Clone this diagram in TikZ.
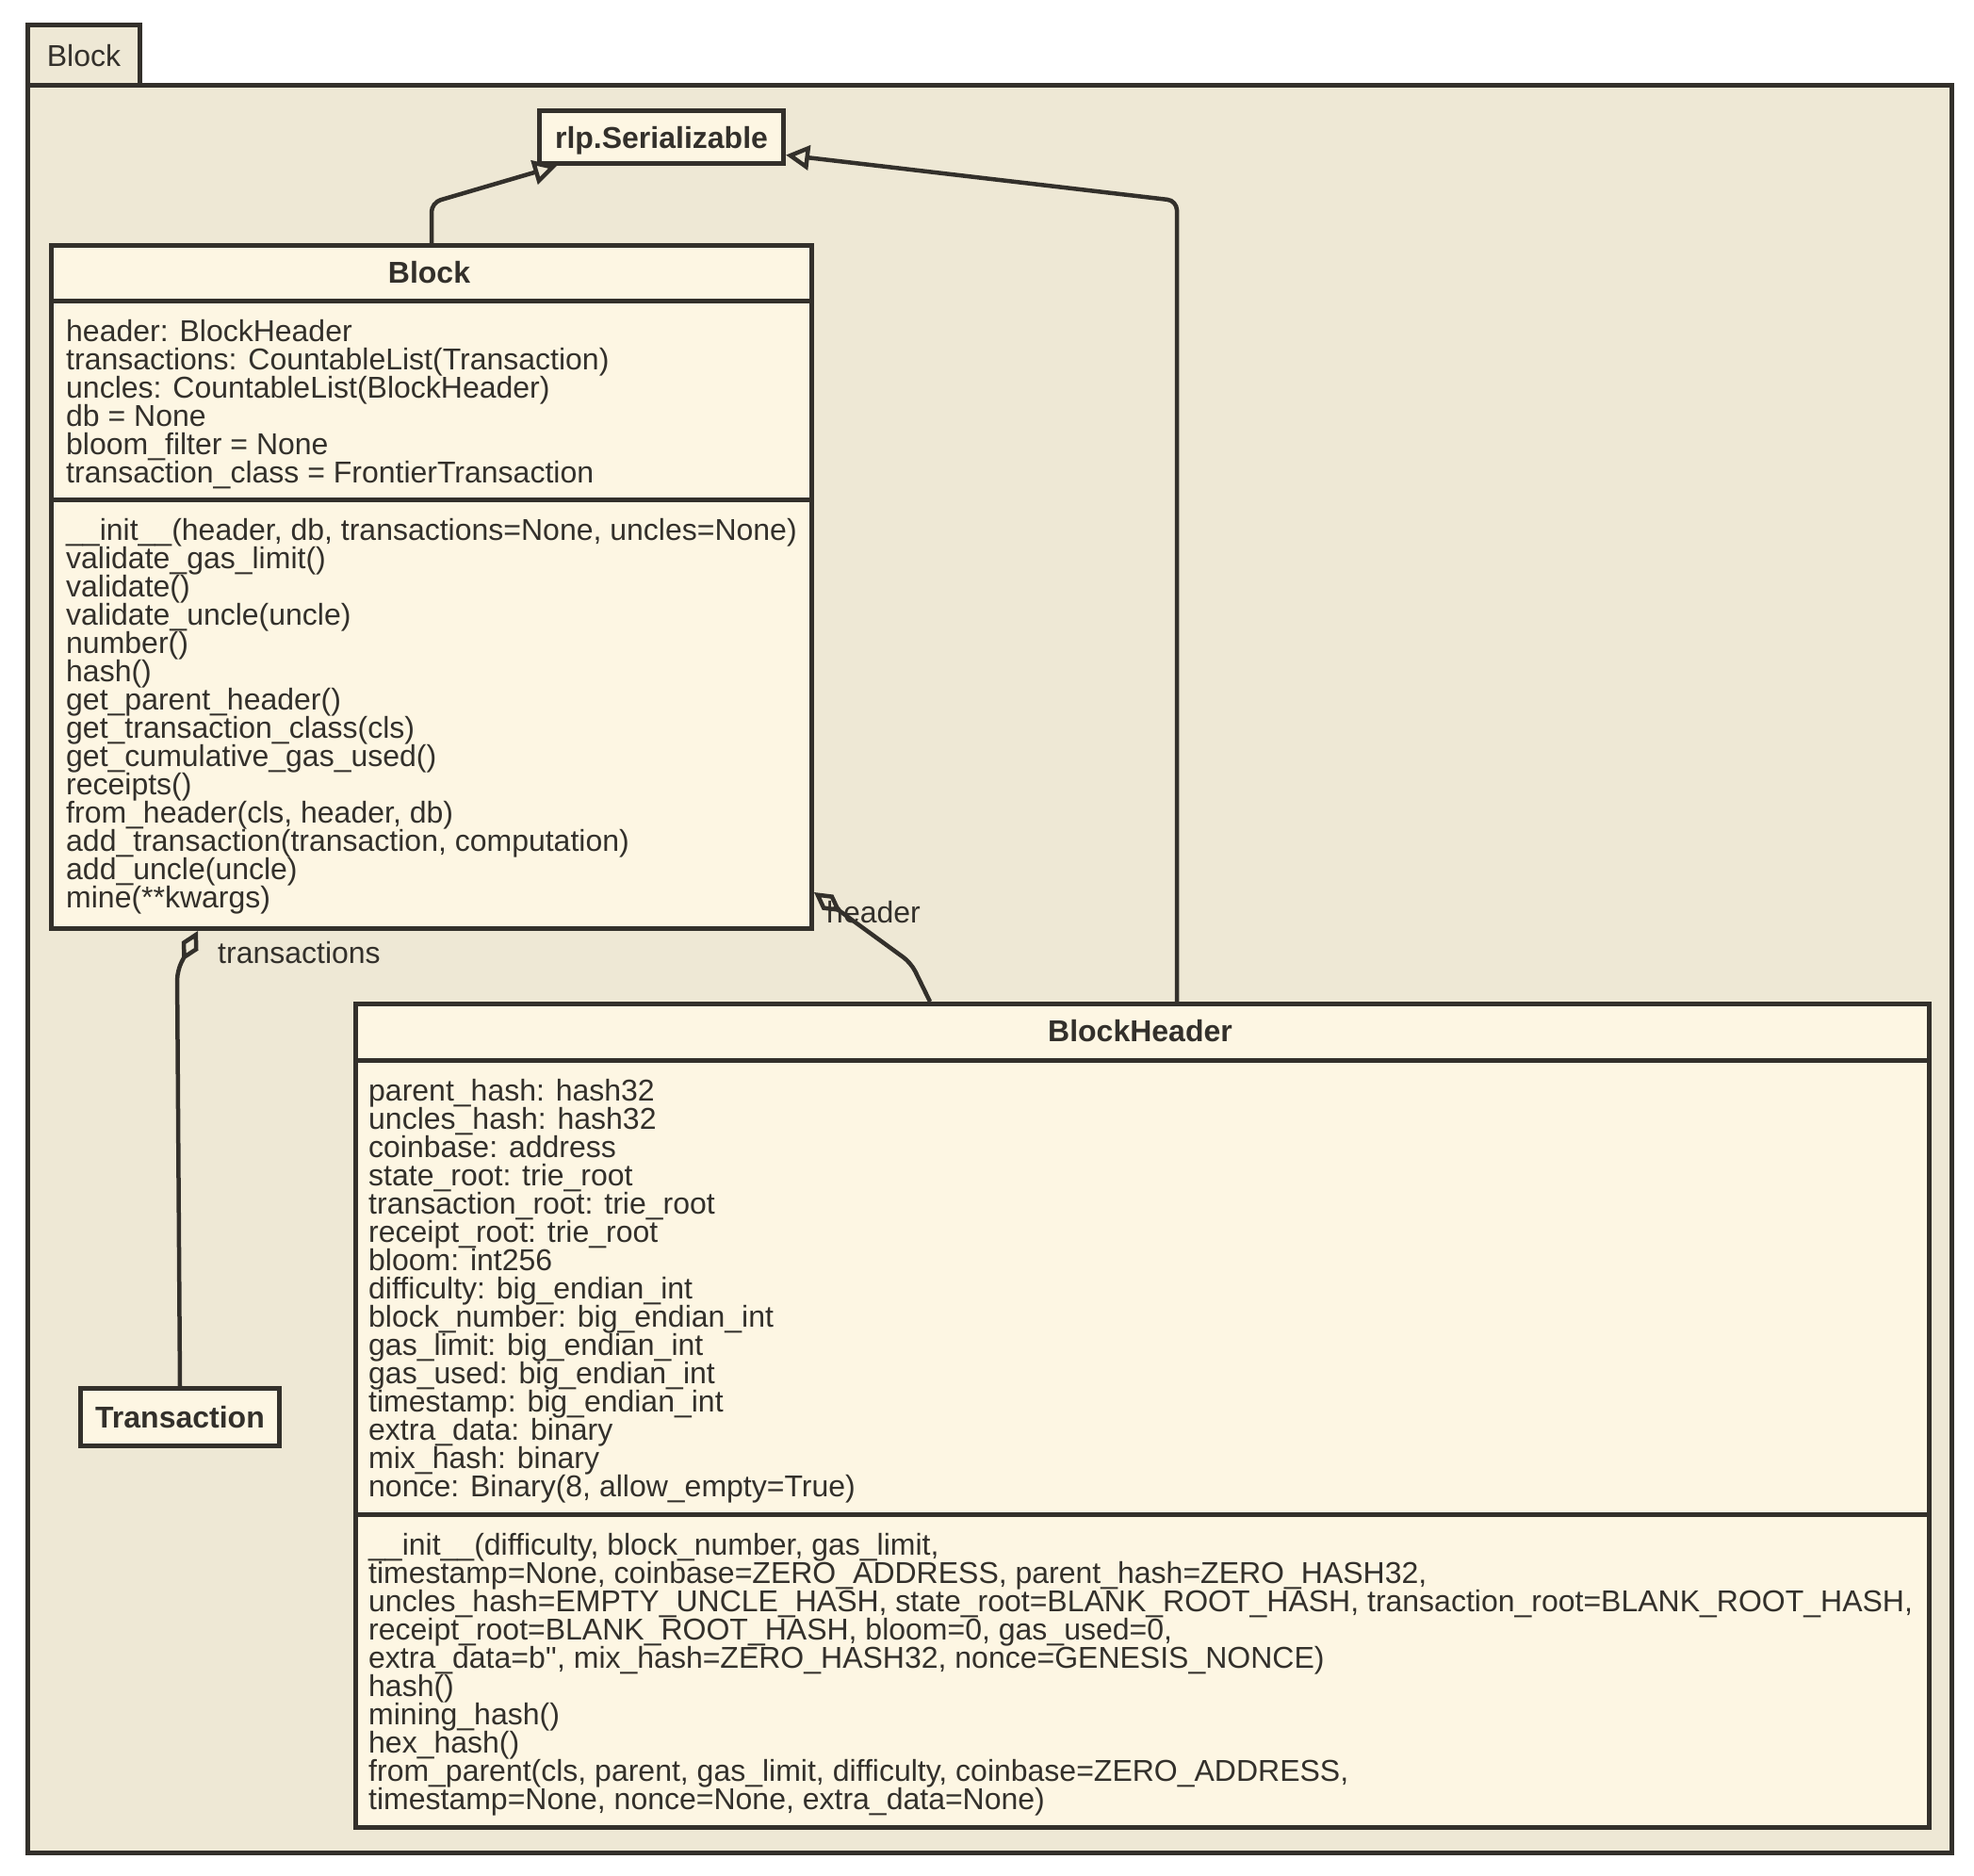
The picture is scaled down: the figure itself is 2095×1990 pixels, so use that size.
\documentclass[tikz,border=0pt]{standalone}
\usepackage{fontspec}
\setmainfont{Liberation Sans}
\usepackage{xcolor}
\usetikzlibrary{arrows.meta, calc, positioning}

\definecolor{pkgbg}{HTML}{EEE8D5}
\definecolor{classbg}{HTML}{FDF6E3}
\definecolor{ink}{HTML}{33302B}

\begin{document}
\begin{tikzpicture}[x=1pt, y=-1pt,
  umlfont/.style={font=\fontsize{32}{30}\selectfont, text=ink},
  pkgbox/.style={draw=ink, line width=5pt, fill=pkgbg, inner sep=0pt, anchor=north west},
  classbox/.style={draw=ink, line width=5pt, fill=classbg, inner sep=0pt, anchor=north west},
  namebox/.style={classbox, umlfont, font=\fontsize{32}{30}\selectfont\bfseries, text height=23pt, text depth=0pt},
  title/.style={umlfont, font=\fontsize{32}{30}\selectfont\bfseries, inner sep=0pt, anchor=base},
  members/.style={umlfont, inner sep=0pt, align=left, anchor=base west},
  sep/.style={draw=ink, line width=5pt},
  link/.style={draw=ink, line width=4.5pt, rounded corners=10pt},
  inherit/.style={link, -{Triangle[open, length=25pt, width=26pt]}},
  aggr/.style={link, {Diamond[open, length=36pt, width=20pt]}-},
  role/.style={umlfont, inner sep=0pt, anchor=west}
]
\fill[white] (0,0) rectangle (2095,1990);
\useasboundingbox (0,0) rectangle (2095,1990);

% package frame
\node[pkgbox, minimum width=2042pt, minimum height=1876pt] (pkg) at (27,88) {};
\node[pkgbox, umlfont, minimum width=119pt, minimum height=64pt, text height=23pt, text depth=0pt] (tab) at (27,24) {Block};

% classes (member lists are placed by the baseline of their last line)
\node[namebox, minimum width=259pt, minimum height=56pt] (rlp) at (570,115) {rlp.Serializable};
\node[namebox, minimum width=211pt, minimum height=61pt] (trans) at (83,1471) {Transaction};

\node[classbox, minimum width=807pt, minimum height=725pt] (blk) at (52,258) {};
\draw[sep] ($(blk.north west)+(0,61)$) -- ($(blk.north east)+(0,61)$);
\draw[sep] ($(blk.north west)+(0,272)$) -- ($(blk.north east)+(0,272)$);
\node[title] (blkname) at (455.5,300) {Block};
\node[members] (blkattr) at (70,512) {header: BlockHeader\\
transactions: CountableList(Transaction)\\
uncles: CountableList(BlockHeader)\\
db = None\\
bloom\_filter = None\\
transaction\_class = FrontierTransaction};
\node[members] (blkops) at (70,963) {\_\_init\_\_(header, db, transactions=None, uncles=None)\\
validate\_gas\_limit()\\
validate()\\
validate\_uncle(uncle)\\
number()\\
hash()\\
get\_parent\_header()\\
get\_transaction\_class(cls)\\
get\_cumulative\_gas\_used()\\
receipts()\\
from\_header(cls, header, db)\\
add\_transaction(transaction, computation)\\
add\_uncle(uncle)\\
mine(**kwargs)};

\node[classbox, minimum width=1670pt, minimum height=874pt] (bh) at (375,1063) {};
\draw[sep] ($(bh.north west)+(0,62)$) -- ($(bh.north east)+(0,62)$);
\draw[sep] ($(bh.north west)+(0,544)$) -- ($(bh.north east)+(0,544)$);
\node[title] (bhname) at (1210,1105) {BlockHeader};
\node[members] (bhattr) at (391,1588) {parent\_hash: hash32\\
uncles\_hash: hash32\\
coinbase: address\\
state\_root: trie\_root\\
transaction\_root: trie\_root\\
receipt\_root: trie\_root\\
bloom: int256\\
difficulty: big\_endian\_int\\
block\_number: big\_endian\_int\\
gas\_limit: big\_endian\_int\\
gas\_used: big\_endian\_int\\
timestamp: big\_endian\_int\\
extra\_data: binary\\
mix\_hash: binary\\
nonce: Binary(8, allow\_empty=True)};
\node[members] (bhops) at (391,1920) {\_\_init\_\_(difficulty, block\_number, gas\_limit,\\
timestamp=None, coinbase=ZERO\_ADDRESS, parent\_hash=ZERO\_HASH32,\\
uncles\_hash=EMPTY\_UNCLE\_HASH, state\_root=BLANK\_ROOT\_HASH, transaction\_root=BLANK\_ROOT\_HASH,\\
receipt\_root=BLANK\_ROOT\_HASH, bloom=0, gas\_used=0,\\
extra\_data=b\textquotesingle\textquotesingle, mix\_hash=ZERO\_HASH32, nonce=GENESIS\_NONCE)\\
hash()\\
mining\_hash()\\
hex\_hash()\\
from\_parent(cls, parent, gas\_limit, difficulty, coinbase=ZERO\_ADDRESS,\\
timestamp=None, nonce=None, extra\_data=None)};

% relations
\draw[inherit] (blk.north) -- ++(0,-43) -- ($(rlp.south west)+(21,0)$);
\draw[inherit] ($(bh.north west)+(874,0)$) -- ++(0,-850) -- ($(rlp.east)+(0,19)$);
\draw[aggr] ($(blk.south east)+(0,-41)$) -- (967,1022) -- ($(bh.north west)+(612,0)$);
\draw[aggr] ($(blk.south west)+(158,0)$) -- (188,1030) -- (trans.north);
\node[role] (hdrrole) at (877,968) {header};
\node[role] (txrole) at (231,1011) {transactions};
\end{tikzpicture}
\end{document}
